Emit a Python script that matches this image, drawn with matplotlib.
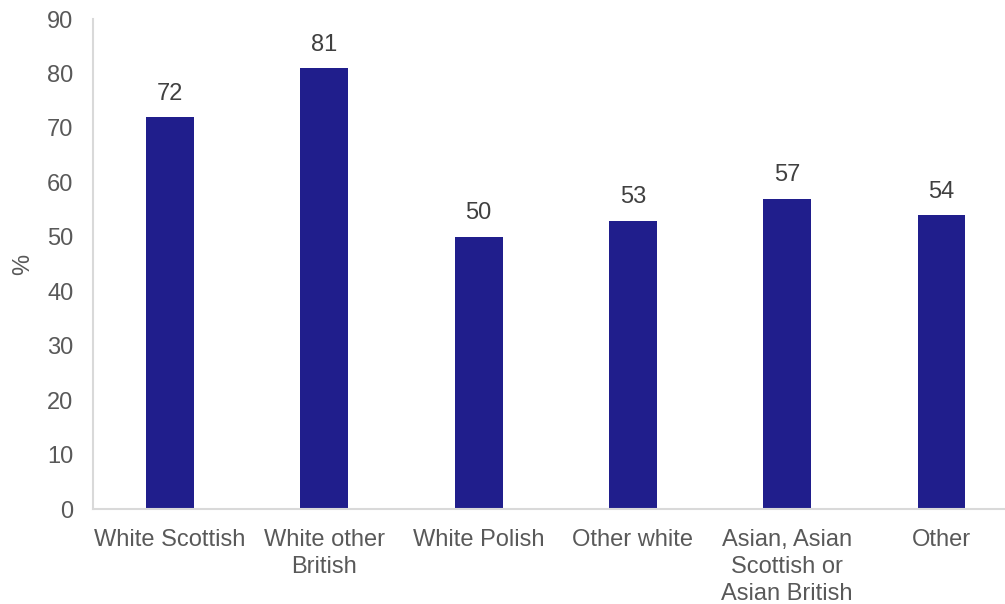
import matplotlib.pyplot as plt
import numpy as np

plt.rcParams['font.family'] = ['Liberation Sans', 'DejaVu Sans']

categories = ['White Scottish', 'White other\nBritish', 'White Polish',
              'Other white', 'Asian, Asian\nScottish or\nAsian British', 'Other']
values = [72, 81, 50, 53, 57, 54]

text_col = '#595959'
bar_col = '#201E8C'

fig = plt.figure(figsize=(10.05, 6.04), dpi=100)
ax = fig.add_axes([0.0925, 0.157, 0.921, 0.8115])

x = np.arange(len(categories))
bars = ax.bar(x, values, width=0.31, color=bar_col)
for xi, v in zip(x, values):
    ax.text(xi, v + 2.3, str(v), ha='center', va='bottom', fontsize=17, color='#404040')

ax.set_xlim(-0.5, len(categories) - 0.5)
ax.set_ylim(0, 90)
ax.set_yticks(range(0, 91, 10))
ax.set_xticks(x)
ax.set_xticklabels(categories, fontsize=17, color=text_col, linespacing=1.3)
ax.tick_params(axis='y', labelsize=17, labelcolor=text_col, length=0, pad=14)
ax.tick_params(axis='x', length=0, pad=14)
ax.set_ylabel('%', fontsize=17, color=text_col)
ax.yaxis.set_label_coords(-0.064, 0.5)

for s in ['top', 'right']:
    ax.spines[s].set_visible(False)
for s in ['left', 'bottom']:
    ax.spines[s].set_color('#D9D9D9')
    ax.spines[s].set_linewidth(1.5)

fig.savefig('out.png', dpi=100)
